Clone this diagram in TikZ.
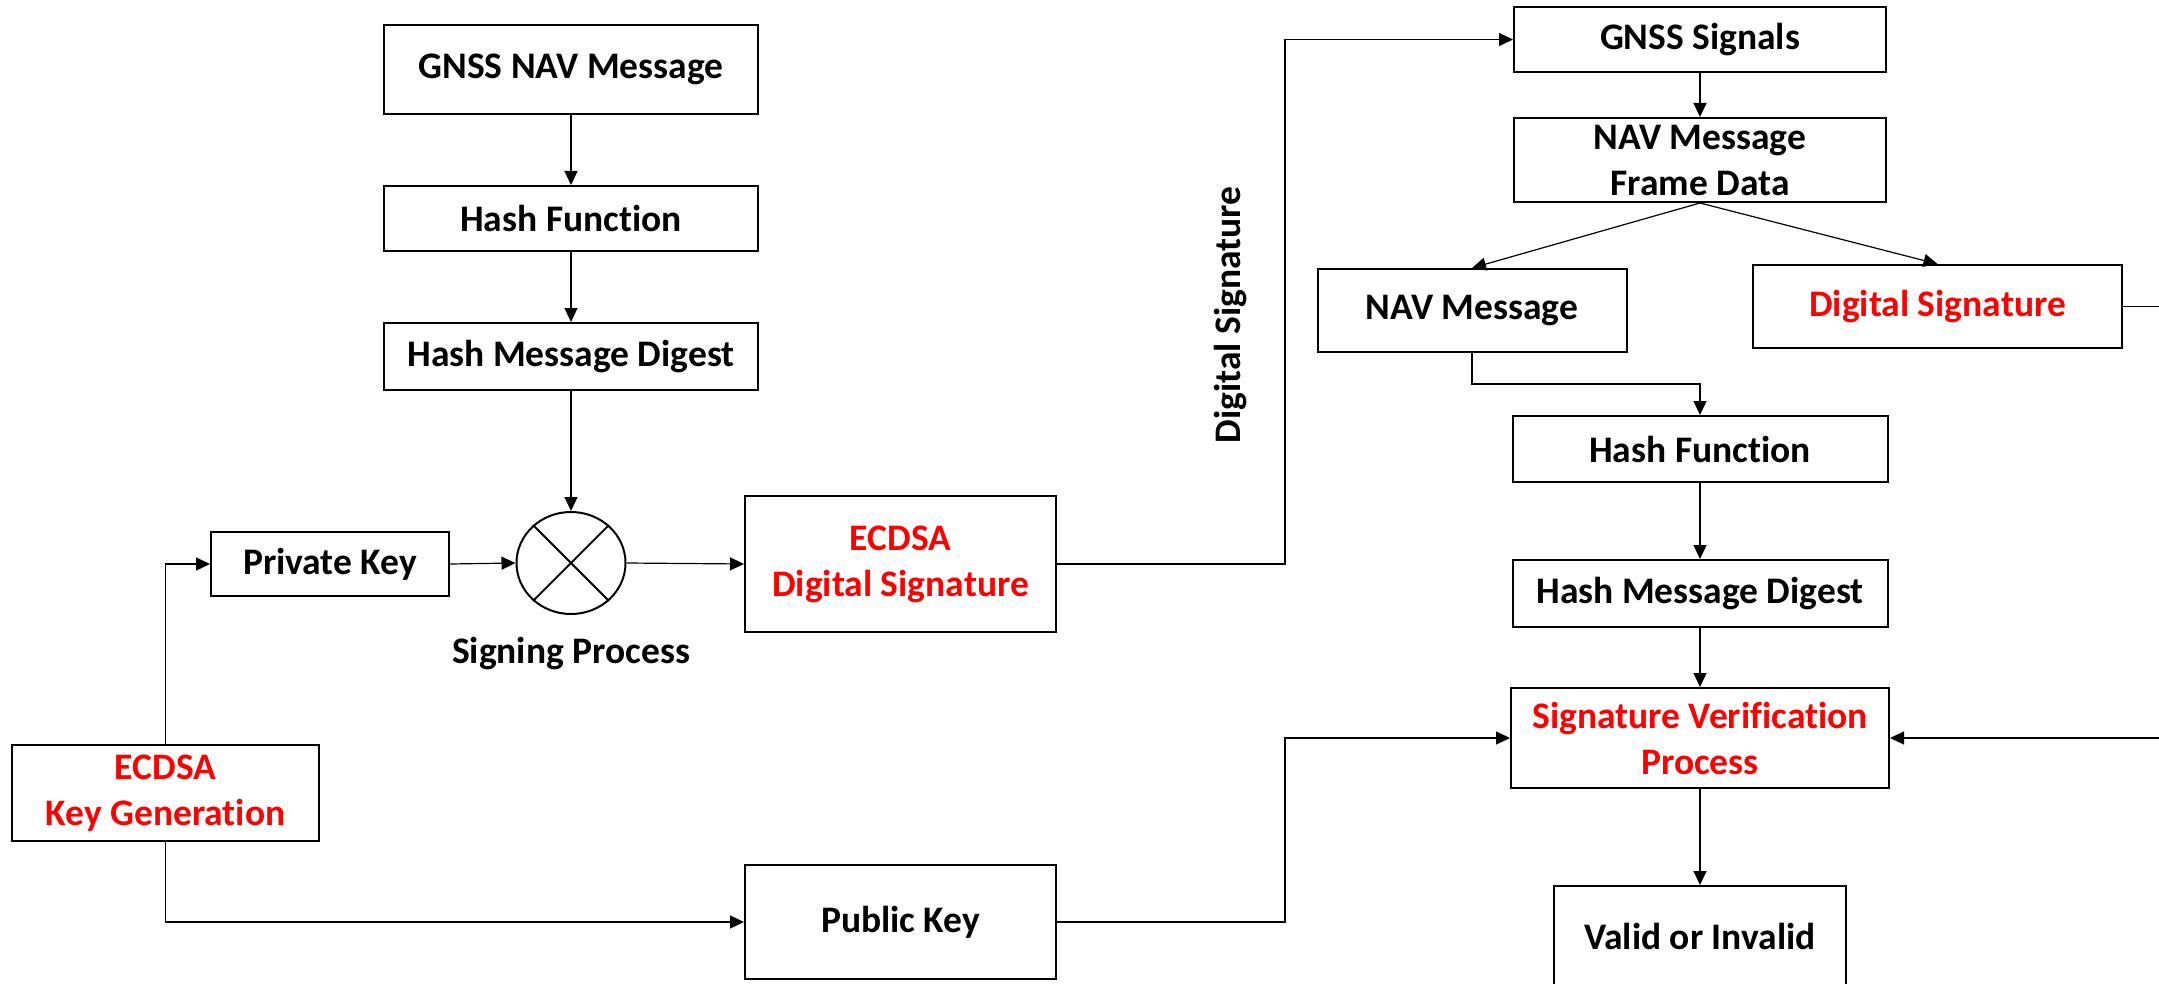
\documentclass[tikz,border=0pt]{standalone}
\usepackage{fontspec}
\setmainfont{Carlito}[Ligatures={NoCommon}]
\usetikzlibrary{arrows.meta,shapes.geometric,calc}
\definecolor{sigred}{RGB}{255,0,0}
\begin{document}
\begin{tikzpicture}[x=1pt,y=-1pt,
  every node/.style={font=\fontsize{37.5}{46}\selectfont\bfseries, inner sep=0pt},
  box/.style={draw, line width=2pt, align=center},
  redtxt/.style={text=sigred},
  link/.style={line width=1.2pt},
  arr/.style={link, -{Triangle[length=14pt,width=13pt]}}]
\useasboundingbox (0,0) rectangle (2159,984);
\clip (0,0) rectangle (2159,984);

% signing side
\node[box, minimum width=374pt, minimum height=89pt] (nav) at (571,69.5) {GNSS NAV Message};
\node[box, minimum width=374pt, minimum height=65pt] (hashA) at (571,218.5) {Hash Function};
\node[box, minimum width=374pt, minimum height=67pt] (digA) at (571,356.5) {Hash Message Digest};
\node[draw, ellipse, line width=2pt, minimum width=109pt, minimum height=102pt] (sign) at (571,563) {};
\draw[line width=2pt] (sign.135) -- (sign.-45) (sign.45) -- (sign.-135);
\node[anchor=base] (signlbl) at (571,663) {Signing Process};
\node[box, minimum width=238pt, minimum height=64pt] (priv) at (330,564) {Private Key};
\node[box, redtxt, minimum width=311pt, minimum height=136pt] (esig) at (900.5,564) {ECDSA\\Digital Signature};
\node[box, redtxt, minimum width=307pt, minimum height=96pt] (keygen) at (165.5,793) {ECDSA\\Key Generation};
\node[box, minimum width=311pt, minimum height=114pt] (pub) at (900.5,922) {Public Key};

% verification side
\node[box, minimum width=372pt, minimum height=65pt] (sigs) at (1700,39.5) {GNSS Signals};
\node[box, minimum width=372pt, minimum height=84pt] (frame) at (1700,160) {NAV Message\\Frame Data};
\node[box, minimum width=309pt, minimum height=83pt] (navm) at (1472,310.5) {NAV Message};
\node[box, redtxt, minimum width=369pt, minimum height=83pt] (dsr) at (1937.5,306.5) {Digital Signature};
\node[box, minimum width=375pt, minimum height=66pt] (hashB) at (1700,449) {Hash Function};
\node[box, minimum width=375pt, minimum height=67pt] (digB) at (1700,593.5) {Hash Message Digest};
\node[box, redtxt, minimum width=378pt, minimum height=100pt] (ver) at (1700,738) {Signature Verification\\Process};
\node[box, minimum width=292pt, minimum height=100pt] (valid) at (1700,936) {Valid or Invalid};

\node[rotate=90] (dslbl) at (1231,315) {Digital Signature};

% routing points
\coordinate (busx) at (1285,500);
\coordinate (elbow) at (1600,384);
\coordinate (outx) at (2200,500);

% connectors, signing side
\draw[arr] (nav.south) -- (hashA.north);
\draw[arr] (hashA.south) -- (digA.north);
\draw[arr] (digA.south) -- (sign.north);
\draw[arr] (keygen.north) |- (priv.west);
\draw[arr] (priv.east) -- (sign.west);
\draw[arr] (sign.east) -- (esig.west);
\draw[arr] (keygen.south) |- (pub.west);
\draw[arr] (esig.east) -- (esig.east -| busx) |- (sigs.west);
\draw[arr] (pub.east) -- (pub.east -| busx) |- (ver.west);

% connectors, verification side
\draw[arr] (sigs.south) -- (frame.north);
\draw[arr] (frame.south) -- (navm.north);
\draw[arr] (frame.south) -- (dsr.north);
\draw[arr] (navm.south) -- (navm.south |- elbow) -| (hashB.north);
\draw[arr] (hashB.south) -- (digB.north);
\draw[arr] (digB.south) -- (ver.north);
\draw[arr] (ver.south) -- (valid.north);
\draw[arr] (dsr.east) -- (dsr.east -| outx) |- (ver.east);
\end{tikzpicture}
\end{document}
